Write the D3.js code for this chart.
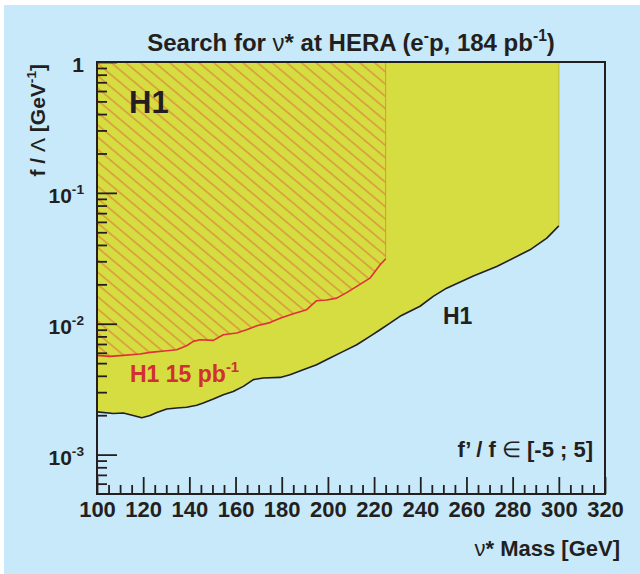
<!DOCTYPE html>
<html><head><meta charset="utf-8">
<script src="https://cdn.jsdelivr.net/npm/d3@7/dist/d3.min.js"></script>
<style>html,body{margin:0;padding:0;background:#fff;} svg{display:block}</style>
</head><body>
<svg id="c" width="640" height="574"></svg>
<script>
// ---- data ----
// H1 limit, 184 pb^-1 (black curve): nu* mass [GeV] and f/Lambda [GeV^-1]
const massH1_184 = [100, 107.1, 111.4, 115.7, 119.4, 123.0, 125.9, 130.2, 134.5, 138.8,
  143.2, 146.0, 150.4, 154.7, 159.0, 163.4, 167.7, 172.0, 179.3, 183.6,
  189.3, 195.1, 200.9, 206.7, 212.5, 218.2, 222.6, 226.9, 231.2, 239.9,
  245.6, 251.4, 263.0, 273.1, 287.5, 294.8, 300];
const limitH1_184 = [2.12e-3, 2.06e-3, 2.08e-3, 1.99e-3, 1.91e-3, 1.99e-3, 2.10e-3, 2.23e-3, 2.27e-3, 2.30e-3,
  2.38e-3, 2.48e-3, 2.66e-3, 2.87e-3, 3.04e-3, 3.32e-3, 3.74e-3, 3.85e-3, 3.89e-3, 4.08e-3,
  4.45e-3, 4.86e-3, 5.47e-3, 6.15e-3, 6.91e-3, 8.00e-3, 9.00e-3, 1.01e-2, 1.14e-2, 1.36e-2,
  1.62e-2, 1.87e-2, 2.32e-2, 2.74e-2, 3.67e-2, 4.51e-2, 5.60e-2];
// H1 limit, 15 pb^-1 (red hatched)
const massH1_15 = [100, 105.6, 111.4, 118.6, 123.0, 130.2, 134.5, 138.8, 141.7, 144.6,
  150.4, 154.7, 160.5, 164.8, 169.2, 174.9, 179.3, 185.0, 190.8, 195.1,
  199.5, 203.8, 208.1, 212.5, 218.2, 222.6, 225];
const limitH1_15 = [5.73e-3, 5.63e-3, 5.73e-3, 5.87e-3, 6.04e-3, 6.22e-3, 6.33e-3, 6.79e-3, 7.33e-3, 7.55e-3,
  7.46e-3, 8.24e-3, 8.49e-3, 9.00e-3, 9.66e-3, 1.02e-2, 1.10e-2, 1.19e-2, 1.28e-2, 1.50e-2,
  1.52e-2, 1.57e-2, 1.73e-2, 1.93e-2, 2.23e-2, 2.82e-2, 3.13e-2];
const xDomain = [100, 320];
const yDomain = [5e-4, 1];
const xMajorTicks = [100, 120, 140, 160, 180, 200, 220, 240, 260, 280, 300, 320];
const yMajorTicks = [1e-3, 1e-2, 1e-1, 1];
const yTickLabels = [["10", "-3"], ["10", "-2"], ["10", "-1"], ["1", ""]];

// ---- style ----
const FONT = "'Liberation Sans', Arial, Helvetica, sans-serif";
const INK = "#231f20";
const BG = "#c7e9f9";
const YELLOW = "#d5dd40";
const RED = "#e0303a";
const RED_TEXT = "#cf2f35";

const svg = d3.select("#c");
svg.append("rect").attr("x", 4).attr("y", 5).attr("width", 636).attr("height", 569).attr("fill", BG);

const x = d3.scaleLinear(xDomain, [97, 605]);
const y = d3.scaleLog(yDomain, [494, 62]);

const defs = svg.append("defs");
const pat = defs.append("pattern").attr("id", "hatch").attr("patternUnits", "userSpaceOnUse")
  .attr("width", 20).attr("height", 9.4).attr("patternTransform", "rotate(40)");
pat.append("line").attr("x1", 0).attr("x2", 20).attr("y1", 4.7).attr("y2", 4.7)
  .attr("stroke", RED).attr("stroke-width", 0.65);
defs.append("clipPath").attr("id", "frame").append("rect")
  .attr("x", 97).attr("y", 62).attr("width", 508).attr("height", 432);

const d184 = massH1_184.map((m, i) => ({ m, v: limitH1_184[i] }));
const d15 = massH1_15.map((m, i) => ({ m, v: limitH1_15[i] }));

const plot = svg.append("g").attr("clip-path", "url(#frame)");
const area = d3.area().x(d => x(d.m)).y0(y(1)).y1(d => y(d.v));
const line = d3.line().x(d => x(d.m)).y(d => y(d.v));

plot.append("path").datum(d184).attr("d", area).attr("fill", YELLOW);
const last184 = d184[d184.length - 1];
plot.append("path").datum([last184, { m: last184.m, v: 1 }]).attr("d", line)
  .attr("fill", "none").attr("stroke", "#bfc534").attr("stroke-width", 1.2);
plot.append("path").datum(d184).attr("d", line).attr("fill", "none")
  .attr("stroke", INK).attr("stroke-width", 1.6).attr("stroke-linejoin", "round");

plot.append("path").datum(d15).attr("d", area).attr("fill", "url(#hatch)");
const last15 = d15[d15.length - 1];
plot.append("path").datum([last15, { m: last15.m, v: 1 }]).attr("d", line)
  .attr("fill", "none").attr("stroke", "#ec8a4a").attr("stroke-width", 1);
plot.append("path").datum(d15).attr("d", line).attr("fill", "none")
  .attr("stroke", RED).attr("stroke-width", 1.6).attr("stroke-linejoin", "round");

// ---- axes ----
const xMinor = d3.range(105, 320, 5).filter(v => v % 20 !== 0);
const yMinor = [];
[-4, -3, -2, -1].forEach(e => { for (let k = 2; k <= 9; k++) { const v = k * Math.pow(10, e); if (v > 5.01e-4 && v < 1) yMinor.push(v); } });

function styleAxis(g) {
  g.select(".domain").remove();
  g.selectAll(".tick line").attr("stroke", INK).attr("stroke-width", 1.8);
}
svg.append("g").attr("transform", "translate(0,494)")
  .call(d3.axisTop(x).tickValues(xMajorTicks).tickSize(17).tickFormat("")).call(styleAxis);
svg.append("g").attr("transform", "translate(0,494)")
  .call(d3.axisTop(x).tickValues(xMinor).tickSize(9).tickFormat("")).call(styleAxis);
svg.append("g").attr("transform", "translate(97,0)")
  .call(d3.axisRight(y).tickValues(yMajorTicks).tickSize(20).tickFormat("")).call(styleAxis);
svg.append("g").attr("transform", "translate(97,0)")
  .call(d3.axisRight(y).tickValues(yMinor).tickSize(10).tickFormat("")).call(styleAxis);

// x tick labels via axis
const xl = svg.append("g").attr("transform", "translate(0,494)")
  .call(d3.axisBottom(x).tickValues(xMajorTicks).tickSize(0).tickPadding(7).tickFormat(d3.format("d")));
xl.select(".domain").remove();
xl.selectAll("text").attr("font-family", FONT).attr("font-weight", "bold").attr("font-size", 22).attr("fill", INK);

// frame
svg.append("rect").attr("x", 97).attr("y", 62).attr("width", 508).attr("height", 432)
  .attr("fill", "none").attr("stroke", INK).attr("stroke-width", 2);

// ---- text helper ----
function addText(tx, ty, parts, o) {
  const t = svg.append("text")
    .attr("transform", `translate(${tx},${ty})` + (o.rot ? ` rotate(${o.rot})` : "") + ` scale(${o.sx || 1},${o.sy || 1})`)
    .attr("text-anchor", o.anchor || "start").attr("font-family", FONT).attr("font-weight", "bold")
    .attr("font-size", o.size).attr("fill", o.fill || INK);
  let shift = 0;
  parts.forEach(p => {
    if (typeof p === "string") p = { t: p };
    const ts = t.append("tspan").text(p.t);
    const target = p.sup ? -o.size * 0.42 : 0;
    if (target !== shift) { ts.attr("dy", target - shift); shift = target; }
    if (p.sup) ts.attr("font-size", o.size * 0.65);
    if (p.normal) ts.attr("font-weight", "normal");
  });
  return t;
}

// y tick labels
yMajorTicks.forEach((v, i) => {
  const [base, sup] = yTickLabels[i];
  const parts = [base];
  if (sup) parts.push({ t: sup, sup: true });
  addText(84, y(v) + 10, parts, { size: 21, anchor: "end" });
});

addText(351, 51, ["Search for ", { t: "ν", normal: true }, "* at HERA (e", { t: "-", sup: true }, "p, 184 pb", { t: "-1", sup: true }, ")"],
  { size: 24, anchor: "middle" });
addText(45, 64, ["f / ", { t: "Λ", normal: true }, " [GeV", { t: "-1", sup: true }, "]"], { size: 21, anchor: "end", rot: -90 });
addText(620, 556, [{ t: "ν", normal: true }, "* Mass [GeV]"], { size: 22, anchor: "end" });
addText(129, 113, ["H1"], { size: 31 });
addText(130, 382, ["H1 15 pb", { t: "-1", sup: true }], { size: 23, fill: RED_TEXT });
addText(443, 324, ["H1"], { size: 23 });
addText(593, 457, ["f’ / f ", { t: "∈", normal: true }, " [-5 ; 5]"], { size: 22, anchor: "end" });
</script>
</body></html>
